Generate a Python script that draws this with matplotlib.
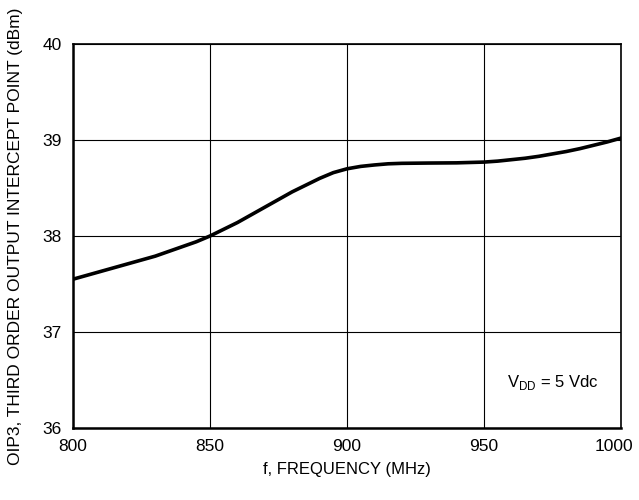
import matplotlib
matplotlib.use('Agg')
import matplotlib.pyplot as plt
import matplotlib.transforms as mtransforms

plt.rcParams['font.family'] = ['Liberation Sans', 'DejaVu Sans']

# data
freq = [800, 805, 810, 815, 820, 825, 830, 835, 840, 845, 850,
        855, 860, 865, 870, 875, 880, 885, 890, 895, 900,
        905, 910, 915, 920, 930, 940, 950, 955, 960, 965,
        970, 975, 980, 985, 990, 995, 1000]
oip3 = [37.55, 37.59, 37.63, 37.67, 37.71, 37.75, 37.79, 37.84, 37.89, 37.94, 38.00,
        38.07, 38.14, 38.22, 38.30, 38.38, 38.46, 38.53, 38.60, 38.66, 38.70,
        38.725, 38.74, 38.752, 38.757, 38.76, 38.762, 38.77, 38.78, 38.795, 38.81,
        38.83, 38.855, 38.88, 38.91, 38.945, 38.98, 39.02]
xticks = [800, 850, 900, 950, 1000]
yticks = [36, 37, 38, 39, 40]

fig = plt.figure(figsize=(6.39, 5.0), dpi=100)
ax = fig.add_axes([73/639, 72/500, 548/639, 384/500])

ax.plot(freq, oip3, color='black', lw=2.6, solid_capstyle='round', solid_joinstyle='round')

ax.set_xlim(800, 1000)
ax.set_ylim(36, 40)
ax.set_xticks(xticks)
ax.set_yticks(yticks)
ax.grid(True, color='black', lw=0.8)
ax.tick_params(length=0, labelsize=12.5, pad=8)

# pull the last x label a bit left so it stays inside the figure
lbl = ax.get_xticklabels()[-1]
lbl.set_transform(lbl.get_transform() + mtransforms.ScaledTranslation(-5/72, 0, fig.dpi_scale_trans))

for s in ['left', 'bottom']:
    ax.spines[s].set_linewidth(1.8)
for s in ['top', 'right']:
    ax.spines[s].set_linewidth(1.2)

ax.set_xlabel('f, FREQUENCY (MHz)', fontsize=12, labelpad=6)
ax.set_ylabel('OIP3, THIRD ORDER OUTPUT INTERCEPT POINT (dBm)', fontsize=12.5, labelpad=14)

ax.text(975, 36.47, r'V$_{\mathregular{DD}}$ = 5 Vdc', fontsize=12, ha='center', va='center')

fig.savefig('out.png', dpi=100)
